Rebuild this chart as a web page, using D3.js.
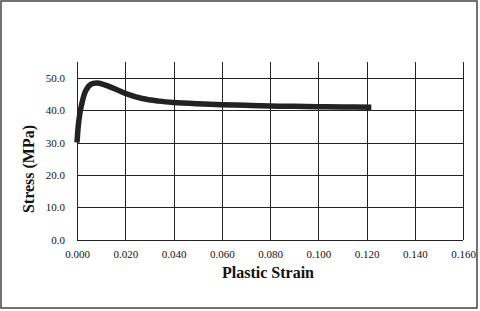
<!DOCTYPE html>
<html>
<head>
<meta charset="utf-8">
<script src="https://cdn.jsdelivr.net/npm/d3@7"></script>
<style>
body{margin:0;background:#fff;}
svg{display:block;}
.axis .domain{display:none;}
.axis line{stroke:#222;shape-rendering:crispEdges;}
</style>
</head>
<body>
<svg class="chart"></svg>
<script>
// values
var strain = [0, 0.0008, 0.002, 0.0036, 0.0057, 0.0085, 0.0134, 0.020, 0.027, 0.034, 0.040, 0.050, 0.060, 0.070, 0.080, 0.090, 0.100, 0.110, 0.122];
var stress = [30, 37, 42, 46, 48, 48.4, 47.3, 45.2, 43.6, 42.8, 42.4, 42.0, 41.7, 41.5, 41.3, 41.2, 41.1, 41.0, 40.9];
var xTicks = [0, 0.02, 0.04, 0.06, 0.08, 0.10, 0.12, 0.14, 0.16];
var yTicks = [0, 10, 20, 30, 40, 50];

var FONT = '"Liberation Serif", Tinos, "Times New Roman", "DejaVu Serif", serif';

var W = 480, H = 311;
var margin = {left:77, top:61.7, right:17, bottom:71.5};
var width = W - margin.left - margin.right,
	height = H - margin.top - margin.bottom;

var svg = d3.select('.chart').attr('width',W).attr('height',H);

// outer frame
svg.append('rect')
	.attr('x',1).attr('y',1)
	.attr('width',W-4).attr('height',H-4)
	.attr('fill','none')
	.attr('stroke','#444')
	.attr('stroke-width',1.5);

var g = svg.append('g')
	.attr('transform','translate('+margin.left+','+margin.top+')');

var xScale = d3.scaleLinear().domain([0,0.16]).range([0,width]);
var yScale = d3.scaleLinear().domain([0,55]).range([height,0]);

var xAxis = g.append('g')
	.attr('class','axis')
	.attr('transform','translate(0,'+height+')')
	.call(d3.axisBottom(xScale).tickValues(xTicks).tickFormat(d3.format('.3f'))
		.tickSizeInner(-height).tickSizeOuter(0).tickPadding(11));

var yAxis = g.append('g')
	.attr('class','axis')
	.call(d3.axisLeft(yScale).tickValues(yTicks).tickFormat(d3.format('.1f'))
		.tickSizeInner(-width).tickSizeOuter(0).tickPadding(12));

[xAxis,yAxis].forEach(a=>{
	a.attr('font-family',FONT).attr('font-size',11);
	a.selectAll('text').attr('fill','#111');
});

var data = strain.map((s,i)=>({x:s,y:stress[i]}));

var line = d3.line()
	.x(d=>xScale(d.x))
	.y(d=>yScale(d.y))
	.curve(d3.curveCatmullRom.alpha(0.5));

g.append('path')
	.datum(data)
	.attr('d',line)
	.attr('fill','none')
	.attr('stroke','#222')
	.attr('stroke-width',5.5)
	.attr('stroke-linejoin','round');

// axis titles
svg.append('text')
	.attr('x',268).attr('y',278)
	.attr('text-anchor','middle')
	.attr('font-family',FONT).attr('font-weight','bold').attr('font-size',16)
	.attr('fill','#111')
	.text('Plastic Strain');

svg.append('text')
	.attr('transform','translate(34,169) rotate(-90)')
	.attr('text-anchor','middle')
	.attr('font-family',FONT).attr('font-weight','bold').attr('font-size',16)
	.attr('fill','#111')
	.text('Stress (MPa)');
</script>
</body>
</html>
